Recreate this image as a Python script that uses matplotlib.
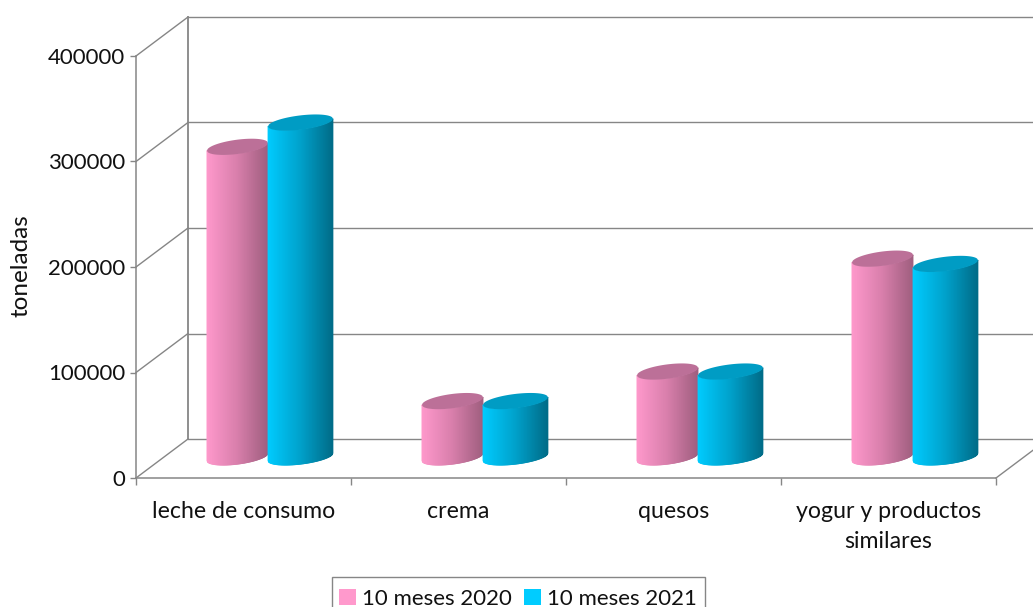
import numpy as np
import matplotlib
matplotlib.use("Agg")
import matplotlib.pyplot as plt
from matplotlib.collections import PolyCollection
from matplotlib.colors import to_rgb
from matplotlib.patches import Patch, Rectangle
from matplotlib.transforms import Affine2D

categories = ["leche de consumo", "crema", "quesos", "yogur y productos\nsimilares"]
serie_2020 = [294000, 53000, 81000, 188000]
serie_2021 = [317000, 53000, 81000, 183000]
series_names = ["10 meses 2020", "10 meses 2021"]
y_ticks = [0, 100000, 200000, 300000, 400000]
y_label = "toneladas"

W, H = 1033, 607
GRID = "#868686"
TEXT = "#111111"
plt.rcParams["font.family"] = ["Lato", "DejaVu Sans"]

fig = plt.figure(figsize=(W / 100, H / 100), dpi=100)
ax = fig.add_axes([136 / W, 1 - 478 / H, 860 / W, 422 / H])
ax.set_xlim(0, 4)
ax.set_ylim(0, 400000)
ax.patch.set_alpha(0)
for name in ("top", "right"):
    ax.spines[name].set_visible(False)
for name in ("left", "bottom"):
    ax.spines[name].set_color(GRID)
    ax.spines[name].set_linewidth(1.1)

wall = ax.transData + Affine2D().translate(52, 39)
floor = ax.transData + Affine2D().translate(0, 21)

# back wall and side wall
for t in y_ticks:
    ax.plot([0, 4], [t, t], color=GRID, lw=1.0, transform=wall, clip_on=False, zorder=1)
    xa, ya = ax.transData.transform((0, t))
    xb, yb = wall.transform((0, t))
    ax.plot([xa, xb], [ya, yb], color=GRID, lw=1.0, transform=None, clip_on=False, zorder=1)
ax.plot([0, 0], [0, 400000], color=GRID, lw=1.3, transform=wall, clip_on=False, zorder=1)
xa, ya = ax.transData.transform((4, 0))
xb, yb = wall.transform((4, 0))
ax.plot([xa, xb], [ya, yb], color=GRID, lw=1.0, transform=None, clip_on=False, zorder=1)


def cylinder(center, half, value, col_left, col_mid, col_right, col_top, z):
    tilt = 3600
    minor = 6800
    u = np.linspace(-1, 1, 90)
    front = tilt * u - minor * np.sqrt(1 - u ** 2)
    back = tilt * u + minor * np.sqrt(1 - u ** 2)
    x = center + half * u
    polys, cols = [], []
    c0, c1, c2 = map(lambda c: np.array(to_rgb(c)), (col_left, col_mid, col_right))
    for i in range(len(u) - 1):
        f = (u[i] + u[i + 1]) / 4 + 0.5
        col = c0 + (c1 - c0) * f / 0.5 if f < 0.5 else c1 + (c2 - c1) * (f - 0.5) / 0.5
        polys.append([(x[i], front[i]), (x[i + 1], front[i + 1]),
                      (x[i + 1], value + front[i + 1]), (x[i], value + front[i])])
        cols.append(col)
    ax.add_collection(PolyCollection(polys, facecolors=cols, edgecolors=cols, linewidths=0.6,
                                     transform=floor, zorder=z, clip_on=False))
    ax.fill(np.r_[x, x[::-1]], np.r_[value + front, value + back[::-1]], color=col_top,
            lw=0, transform=floor, zorder=z + 0.1, clip_on=False)


for i, (a, b) in enumerate(zip(serie_2020, serie_2021)):
    cylinder(i + 0.472, 0.142, a, "#FF99CC", "#D97FAC", "#A05F80", "#BC7098", 3 + i)
    cylinder(i + 0.765, 0.151, b, "#00CCFF", "#00A2CC", "#006C88", "#009CC4", 3.5 + i)

ax.set_yticks(y_ticks)
ax.set_yticklabels([str(t) for t in y_ticks], fontsize=16)
ax.set_xticks([0, 1, 2, 3, 4], minor=True)
ax.set_xticks([0.5, 1.5, 2.5, 3.5])
ax.set_xticklabels(categories, fontsize=16.7, linespacing=1.57, color=TEXT)
ax.tick_params(axis="x", which="major", length=0, pad=16.2)
ax.tick_params(axis="x", which="minor", length=5, color=GRID, width=1.0)
ax.tick_params(axis="y", length=4.3, color=GRID, width=1.0, pad=3.6, labelcolor=TEXT)
ax.set_ylabel(y_label, fontsize=17.5, color=TEXT, va="center")
ax.yaxis.set_label_coords(21 / W, 1 - 266 / H, transform=fig.transFigure)

handles = [Patch(facecolor="#FF99CC", edgecolor="none"), Patch(facecolor="#00CCFF", edgecolor="none")]
leg = fig.legend(handles, series_names, loc="center", bbox_to_anchor=(518 / W, 1 - 599 / H),
                 ncol=2, frameon=False, fontsize=16, handlelength=0.75, handleheight=0.75,
                 handletextpad=0.28, columnspacing=0.55, borderpad=0, borderaxespad=0,
                 labelcolor=TEXT)
fig.add_artist(Rectangle((332 / W, 1 - 615 / H), 373 / W, 38 / H, transform=fig.transFigure,
                         fill=False, edgecolor=GRID, lw=1.0))

fig.savefig("out.png", dpi=100)
